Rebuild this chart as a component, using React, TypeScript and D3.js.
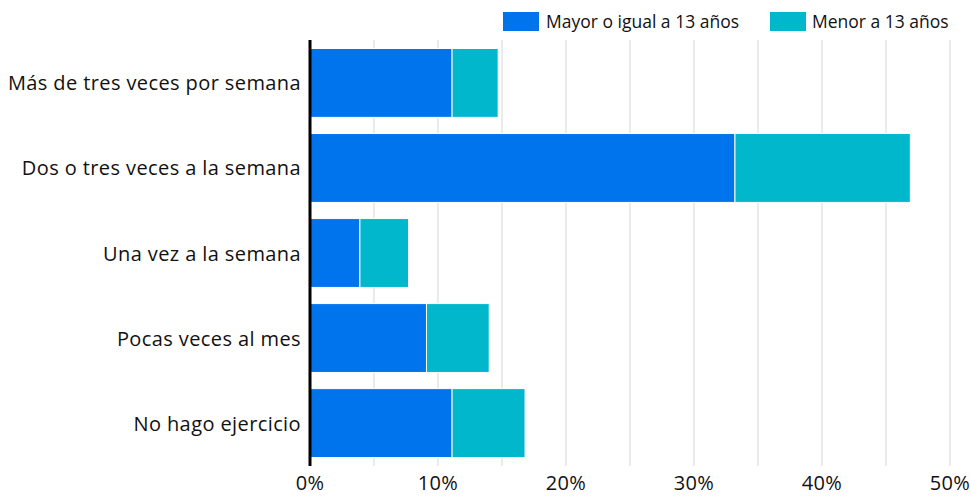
import React from "react";
import * as d3 from "d3";

const categories = [
  "Más de tres veces por semana",
  "Dos o tres veces a la semana",
  "Una vez a la semana",
  "Pocas veces al mes",
  "No hago ejercicio",
];
const seriesNames = ["Mayor o igual a 13 años", "Menor a 13 años"];
const mayor = [11.1, 33.2, 3.9, 9.1, 11.1];
const menor = [3.6, 13.7, 3.8, 4.9, 5.7];
const xTicks = [0, 10, 20, 30, 40, 50];
const gridTicks = [5, 10, 15, 20, 25, 30, 35, 40, 45, 50];
const colors = ["#0074ed", "#00b7cb"];

const W = 971;
const H = 496;
const margin = { left: 310, right: 21, top: 40, bottom: 30 };
const FONT = "'Open Sans', 'Noto Sans', sans-serif";

export default function App() {
  const x = d3.scaleLinear().domain([0, 50]).range([margin.left, W - margin.right]);
  const y = d3
    .scaleBand<string>()
    .domain(categories)
    .range([margin.top, H - margin.bottom])
    .paddingInner(0.19)
    .paddingOuter(0.1);

  const rows = categories.map((c, i) => ({ c, vals: [mayor[i], menor[i]] }));
  const stack = d3.stack<any>().keys(["0", "1"]).value((d: any, k: string) => d.vals[+k]);
  const stacked = stack(rows as any);

  return (
    <svg
      width={W}
      height={H}
      style={{ position: "absolute", left: 0, top: 0, fontFamily: FONT }}
    >
      {gridTicks.map((t) => (
        <line
          key={t}
          x1={x(t)}
          x2={x(t)}
          y1={margin.top}
          y2={H - margin.bottom}
          stroke="#ebebeb"
          strokeWidth={2}
        />
      ))}
      {stacked.map((s, si) =>
        s.map((d, i) => (
          <rect
            key={si + "-" + i}
            x={x(d[0])}
            y={y(categories[i])}
            width={x(d[1]) - x(d[0])}
            height={y.bandwidth()}
            fill={colors[si]}
            stroke="#ffffff"
            strokeWidth={1}
          />
        ))
      )}
      <line
        x1={x(0)}
        x2={x(0)}
        y1={margin.top}
        y2={H - margin.bottom}
        stroke="#000"
        strokeWidth={3}
      />
      {categories.map((c) => (
        <text
          key={c}
          x={x(0) - 9}
          y={(y(c) as number) + y.bandwidth() / 2}
          textAnchor="end"
          dominantBaseline="central"
          fontSize={20}
          letterSpacing={0.4}
          fill="#111"
        >
          {c}
        </text>
      ))}
      {xTicks.map((t) => (
        <text
          key={t}
          x={x(t)}
          y={490}
          textAnchor="middle"
          fontSize={20}
          letterSpacing={0.3}
          fill="#111"
        >
          {t + "%"}
        </text>
      ))}
      <g>
        <rect x={503} y={12} width={36} height={19} fill={colors[0]} />
        <text x={546} y={28} fontSize={17.5} fill="#111">
          {seriesNames[0]}
        </text>
        <rect x={770} y={12} width={36} height={19} fill={colors[1]} />
        <text x={812} y={28} fontSize={17.5} fill="#111">
          {seriesNames[1]}
        </text>
      </g>
    </svg>
  );
}
